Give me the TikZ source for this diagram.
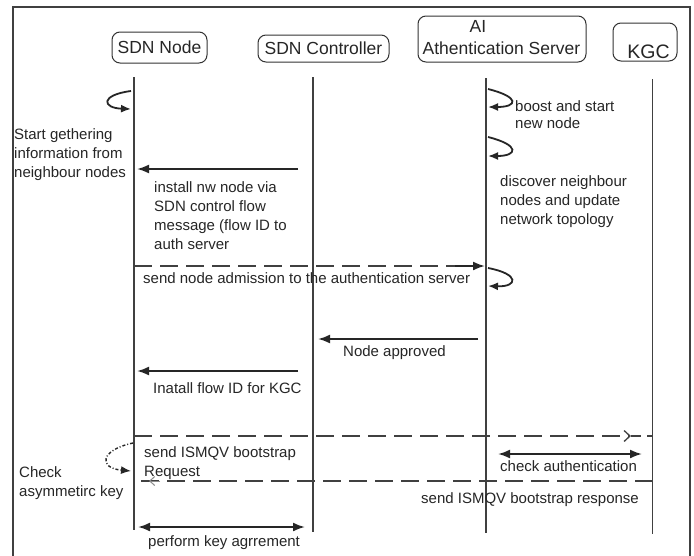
\documentclass[tikz,border=0pt]{standalone}
\usepackage{fontspec}
\setmainfont{Liberation Sans}
\usetikzlibrary{arrows.meta}
\begin{document}
\begin{tikzpicture}[x=1pt,y=-1pt,
  hdr/.style={draw=black!80, line width=1pt, rounded corners=8pt, inner sep=0pt, text=black!85, font=\fontsize{17.5}{20}\selectfont},
  htext/.style={font=\fontsize{17.5}{20}\selectfont, anchor=base, inner sep=0pt, text=black!85},
  lbl/.style={font=\fontsize{15}{19}\selectfont, align=left, anchor=north west, inner sep=0pt, text=black!85},
  life/.style={draw=black!75, line width=1.3pt},
  msg/.style={draw=black!85, line width=2pt, -{Latex[length=12pt,width=9pt]}},
  dmsg/.style={draw=black!85, line width=2pt, {Latex[length=12pt,width=9pt]}-{Latex[length=12pt,width=9pt]}},
  dashmsg/.style={draw=black!75, line width=1.3pt, dash pattern=on 18pt off 8pt},
  selfmsg/.style={draw=black!85, line width=1.8pt, -{Latex[length=10pt,width=8pt]}},
]
\useasboundingbox (0,0) rectangle (694,555);
\fill[white] (0,0) rectangle (694,555);
% frame
\draw[black!75, line width=1.3pt] (13,556) -- (13,7) -- (690,7) -- (690,556);

% headers
\node[hdr, minimum width=95, minimum height=31] (sdn) at (159.5,47.5) {SDN Node};
\node[hdr, minimum width=131, minimum height=27] (ctrl) at (323.5,48.5) {SDN Controller};
\node[hdr, minimum width=168, minimum height=46] (auth) at (502,39) {};
\node[htext] (authname) at (501.5,54.5) {Athentication Server};
\node[htext] (ai) at (478,32) {AI};
\node[hdr, minimum width=64, minimum height=38] (kgcbox) at (645,42) {};
\node[htext, font=\fontsize{19.5}{22}\selectfont] (kgc) at (648.5,58) {KGC};

% lifelines
\coordinate (sdnT) at (134,77);   \coordinate (sdnB) at (134,530);
\coordinate (ctrlT) at (313,77);  \coordinate (ctrlB) at (313,532);
\coordinate (authT) at (486,78);  \coordinate (authB) at (486,533);
\coordinate (kgcT) at (652.5,79); \coordinate (kgcB) at (652.5,534);
\draw[life] (sdnT) -- (sdnB);
\draw[life] (ctrlT) -- (ctrlB);
\draw[life] (authT) -- (authB);
\draw[life] (kgcT) -- (kgcB);

% self messages
\coordinate (l1a) at (131,91);  \coordinate (l1b) at (131,109);
\draw[selfmsg] (l1a) .. controls (100,95) and (102,108) .. (l1b);
\coordinate (l2a) at (488,89);  \coordinate (l2b) at (488,107);
\draw[selfmsg] (l2a) .. controls (520,97) and (518,107) .. (l2b);
\coordinate (l3a) at (488,137); \coordinate (l3b) at (488,156);
\draw[selfmsg] (l3a) .. controls (520,145) and (518,156) .. (l3b);
\coordinate (l4a) at (488,268); \coordinate (l4b) at (488,286);
\draw[selfmsg] (l4a) .. controls (520,274) and (518,287) .. (l4b);
\coordinate (l5a) at (133,443); \coordinate (l5b) at (131,471);
\draw[draw=black!85, line width=1.4pt, dash pattern=on 3pt off 2pt on 1pt off 2pt, -{Latex[length=10pt,width=8pt]}] (l5a) .. controls (100,450) and (98,468) .. (l5b);

% messages
\coordinate (m1s) at (298,169); \coordinate (m1e) at (137,169);
\draw[msg] (m1s) -- (m1e);
\coordinate (m2s) at (134,266); \coordinate (m2m) at (455,266); \coordinate (m2e) at (485,266);
\draw[dashmsg] (m2s) -- (m2m);
\draw[msg] (m2m) -- (m2e);
\coordinate (m3s) at (478,339); \coordinate (m3e) at (318,339);
\draw[msg] (m3s) -- (m3e);
\coordinate (m4s) at (298,371); \coordinate (m4e) at (137,371);
\draw[msg] (m4s) -- (m4e);
\coordinate (m5s) at (134,436); \coordinate (m5t) at (631,436); \coordinate (m5e) at (652.5,436);
\draw[dashmsg, -{Straight Barb[length=6pt,width=11pt]}] (m5s) -- (m5t);
\draw[dashmsg, dash pattern=on 10pt off 6pt] (m5t) -- (m5e);
\coordinate (m6s) at (498,454); \coordinate (m6e) at (642,454);
\draw[dmsg] (m6s) -- (m6e);
\coordinate (m7s) at (652.5,481); \coordinate (m7e) at (134,481);
\draw[dashmsg] (m7s) -- (m7e);
\coordinate (m7a) at (160,481); \coordinate (m7t) at (149,481);
\draw[black!45, line width=1pt, -{Straight Barb[length=5pt,width=9pt]}] (m7a) -- (m7t);
\coordinate (m8s) at (138,527); \coordinate (m8e) at (305,527);
\draw[dmsg] (m8s) -- (m8e);

% labels
\node[lbl] (t1) at (14,128.5) {Start gethering\\information from\\neighbour nodes};
\node[lbl] (t2) at (154,181.5) {install nw node via\\SDN control flow\\message (flow ID to\\auth server};
\node[lbl, font=\fontsize{15}{17.5}\selectfont] (t3) at (515,100) {boost and start\\new node};
\node[lbl] (t4) at (500,175) {discover neighbour\\nodes and update\\network topology};
\node[lbl] (t5) at (143,272) {send node admission to the authentication server};
\node[lbl] (t6) at (343,345) {Node approved};
\node[lbl] (t7) at (153,382) {Inatall flow ID for KGC};
\node[lbl] (t8) at (144,446) {send ISMQV bootstrap\\Request};
\node[lbl] (t9) at (19,466) {Check\\asymmetirc key};
\node[lbl] (t10) at (500,460) {check authentication};
\node[lbl] (t11) at (421,492) {send ISMQV bootstrap response};
\node[lbl] (t12) at (148,535) {perform key agrrement};
\end{tikzpicture}
\end{document}
